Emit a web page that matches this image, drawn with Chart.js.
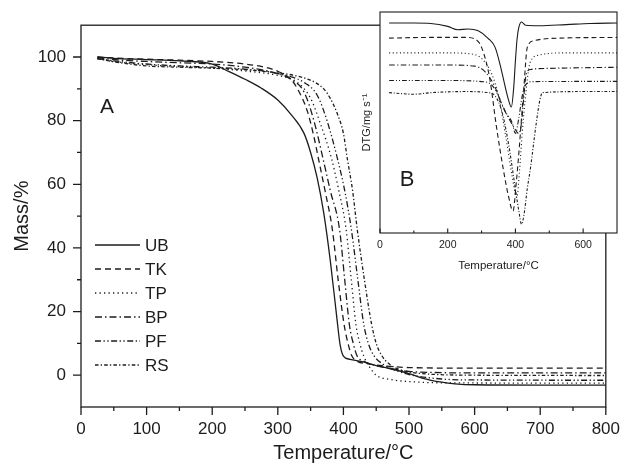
<!DOCTYPE html>
<html>
<head>
<meta charset="utf-8">
<script src="https://cdn.jsdelivr.net/npm/chart.js@4.4.0/dist/chart.umd.min.js"></script>
<style>
  html, body { margin: 0; padding: 0; background: #fff; }
  #wrap { position: relative; width: 632px; height: 467px; }
  #tgaChart { position: absolute; left: 0; top: 0; }
  #dtgChart { position: absolute; left: 330px; top: 0; }
</style>
</head>
<body>
<div id="wrap">
  <canvas id="tgaChart" width="632" height="467"></canvas>
  <canvas id="dtgChart" width="302" height="275"></canvas>
</div>
<script>
// sample names (legend order)
const sampleNames = ['UB', 'TK', 'TP', 'BP', 'PF', 'RS'];

// mass loss curves: temperature (°C) / mass (%)
const ubTemp = [25, 50, 100, 150, 200, 225, 250, 275, 300, 320, 340, 350, 360, 370, 380, 390, 395, 400, 410, 430, 450, 470, 500, 520, 550, 570, 600, 700, 800];
const ubMass = [100, 99.6, 99.2, 98.8, 97.8, 95.5, 93, 90.2, 86.5, 82, 76, 70, 62, 51, 36, 18, 9.5, 6, 5, 4.2, 3, 2.1, 0.5, -0.9, -2.2, -2.7, -3, -3.1, -3.1];
const tkTemp = [25, 50, 100, 150, 200, 250, 280, 300, 320, 330, 345, 355, 362, 372, 383, 392, 401, 407, 413, 420, 440, 460, 480, 500, 600, 800];
const tkMass = [100, 99.7, 99.3, 99, 98.6, 97.8, 96.8, 95.5, 93, 90, 83, 75, 68, 58, 46, 30, 16, 10, 6, 4.5, 3.5, 3, 2.6, 2.4, 2.2, 2.2];
const tpTemp = [25, 50, 100, 150, 200, 250, 300, 330, 350, 365, 382, 393, 404, 412, 419, 425, 431, 440, 450, 470, 500, 550, 800];
const tpMass = [99.5, 98.6, 97.6, 97, 96.5, 95.6, 94.2, 92, 87, 79, 68, 58, 46, 30, 16, 10, 6, 2.5, 0, -1.3, -2, -2.4, -2.5];
const bpTemp = [25, 50, 100, 150, 200, 250, 290, 320, 340, 355, 369, 380, 394, 402, 409, 415, 421, 430, 450, 480, 500, 550, 600, 800];
const bpMass = [99.8, 99.2, 98.6, 98.2, 97.8, 96.8, 95.3, 93, 89, 80, 68, 58, 46, 30, 16, 10, 6, 4.5, 3, 1.8, 1.2, 0.8, 0.7, 0.7];
const pfTemp = [25, 50, 100, 150, 200, 250, 300, 340, 360, 375, 391, 402, 412, 422, 431, 438, 446, 460, 480, 500, 550, 600, 800];
const pfMass = [99.5, 98.8, 97.8, 97.2, 96.8, 96.2, 94.8, 92, 88, 80, 68, 58, 46, 30, 16, 10, 6.3, 3.5, 1.5, 0.2, -1.2, -1.5, -1.6];
const rsTemp = [25, 50, 100, 150, 200, 250, 300, 330, 357, 370, 380, 391, 400, 406, 414, 421, 432, 443, 450, 458, 470, 490, 520, 600, 800];
const rsMass = [99.5, 98.5, 97.2, 96.8, 96.5, 96, 95, 94, 92, 90, 87, 82, 76, 68, 58, 46, 30, 16, 10, 6.3, 3.5, 1.5, 0.5, 0, -0.1];

// derivative curves (offset, arbitrary units)
const ubDtgTemp = [27, 100, 150, 200, 230, 260, 290, 320, 340, 355, 370, 380, 388, 395, 400, 405, 410, 418, 430, 470, 550, 620, 700];
const ubDtg = [95, 95, 94.8, 93.5, 92, 92.3, 91.5, 88, 84, 76, 66, 60, 57, 66, 78, 88, 93, 95.5, 94, 93.8, 94.3, 94.8, 95];
const tkDtgTemp = [27, 150, 250, 280, 300, 324, 344, 364, 379, 393, 402, 410, 425, 435, 455, 500, 700];
const tkDtg = [88.2, 88.5, 88.5, 87.8, 84, 70, 48, 29, 17, 10, 22, 36, 66, 84, 87, 88, 88.5];
const tpDtgTemp = [27, 200, 270, 300, 330, 350, 370, 390, 404, 412, 420, 430, 440, 450, 470, 550, 700];
const tpDtg = [81.5, 81.5, 81, 79, 72, 62, 45, 26, 16, 28, 45, 62, 75, 79, 80.5, 81.5, 81.5];
const bpDtgTemp = [27, 200, 280, 310, 340, 360, 380, 395, 410, 418, 425, 432, 445, 500, 700];
const bpDtg = [76, 76, 75.5, 73, 66, 58, 52, 48, 45, 50, 62, 72, 74, 74.5, 75];
const pfDtgTemp = [27, 200, 300, 330, 350, 370, 390, 400, 410, 420, 430, 450, 700];
const pfDtg = [69, 69, 68.5, 67, 62, 55, 50, 45, 52, 62, 67, 68.5, 68.6];
const rsDtgTemp = [27, 100, 150, 250, 320, 340, 360, 380, 395, 410, 418, 425, 435, 445, 460, 472, 480, 600, 700];
const rsDtg = [63.5, 62.8, 63.5, 64, 63.5, 62, 55, 40, 25, 10, 4, 8, 20, 30, 48, 60, 63.5, 64, 64];

// tick values
const tempTicks = [0, 100, 200, 300, 400, 500, 600, 700, 800];
const tempMinor = [50, 150, 250, 350, 450, 550, 650, 750];
const massTicks = [0, 20, 40, 60, 80, 100];
const massMinor = [10, 30, 50, 70, 90];
const dtgTempTicks = [0, 200, 400, 600];
const dtgTempMinor = [100, 300, 500];

const INK = '#1c1c1c';
const FONT = "'Liberation Sans', Arial, Helvetica, sans-serif";
const dashes = [[], [6, 4], [1.3, 3.2], [7, 3, 1.5, 3], [6, 2.5, 1.3, 2.5, 1.3, 2.5], [3.5, 2.2, 1.3, 2.2]];

const tgaSeries = [[ubTemp, ubMass], [tkTemp, tkMass], [tpTemp, tpMass], [bpTemp, bpMass], [pfTemp, pfMass], [rsTemp, rsMass]];
const dtgSeries = [[ubDtgTemp, ubDtg], [tkDtgTemp, tkDtg], [tpDtgTemp, tpDtg], [bpDtgTemp, bpDtg], [pfDtgTemp, pfDtg], [rsDtgTemp, rsDtg]];

function toPoints(xs, ys) {
    return xs.map((x, i) => ({ x: x, y: ys[i] }));
}

// box around the plot + hand-drawn tick marks
const framePlugin = {
    id: 'frame',
    beforeDraw(chart, args, opts) {
        if (!opts.fill) return;
        const a = chart.chartArea;
        chart.ctx.save();
        chart.ctx.fillStyle = opts.fill;
        chart.ctx.fillRect(a.left, a.top, a.right - a.left, a.bottom - a.top);
        chart.ctx.restore();
    },
    afterDraw(chart, args, opts) {
        const { ctx, chartArea: a, scales } = chart;
        const dir = opts.inward ? -1 : 1;
        ctx.save();
        ctx.strokeStyle = INK;
        ctx.lineWidth = opts.width;
        ctx.strokeRect(a.left, a.top, a.right - a.left, a.bottom - a.top);
        ctx.beginPath();
        (opts.x || []).forEach(([vals, len]) => {
            vals.forEach(v => {
                const px = scales.x.getPixelForValue(v);
                ctx.moveTo(px, a.bottom);
                ctx.lineTo(px, a.bottom + dir * len);
            });
        });
        (opts.y || []).forEach(([vals, len]) => {
            vals.forEach(v => {
                const py = scales.y.getPixelForValue(v);
                ctx.moveTo(a.left, py);
                ctx.lineTo(a.left - dir * len, py);
            });
        });
        ctx.stroke();
        ctx.restore();
    }
};

// line-style key drawn inside the plot
const lineKeyPlugin = {
    id: 'lineKey',
    afterDraw(chart, args, opts) {
        if (!opts.show) return;
        const ctx = chart.ctx;
        ctx.save();
        ctx.font = opts.size + 'px ' + FONT;
        ctx.fillStyle = INK;
        ctx.strokeStyle = INK;
        ctx.textBaseline = 'middle';
        chart.data.datasets.forEach((ds, i) => {
            const y = opts.top + i * opts.step;
            ctx.lineWidth = ds.borderWidth;
            ctx.setLineDash(ds.borderDash || []);
            ctx.beginPath();
            ctx.moveTo(opts.left, y);
            ctx.lineTo(opts.left + opts.length, y);
            ctx.stroke();
            ctx.setLineDash([]);
            ctx.fillText(ds.label, opts.left + opts.length + 5, y + 1);
        });
        ctx.restore();
    }
};

// panel letter
const panelTagPlugin = {
    id: 'panelTag',
    afterDraw(chart, args, opts) {
        const ctx = chart.ctx;
        ctx.save();
        ctx.font = opts.size + 'px ' + FONT;
        ctx.fillStyle = INK;
        ctx.textAlign = 'center';
        ctx.textBaseline = 'middle';
        ctx.fillText(opts.text, opts.x, opts.y);
        ctx.restore();
    }
};

// main mass-loss chart
new Chart(document.getElementById('tgaChart'), {
    type: 'line',
    data: {
        datasets: sampleNames.map((name, i) => ({
            label: name,
            data: toPoints(tgaSeries[i][0], tgaSeries[i][1]),
            borderColor: INK,
            borderWidth: 1.3,
            borderDash: dashes[i],
            pointRadius: 0,
            cubicInterpolationMode: 'monotone',
            fill: false
        }))
    },
    options: {
        responsive: false,
        animation: false,
        layout: { padding: { left: 0, right: 15, top: 11, bottom: 0 } },
        plugins: {
            legend: { display: false },
            tooltip: { enabled: false },
            frame: { width: 1.3, x: [[tempTicks, 8], [tempMinor, 4]], y: [[massTicks, 8], [massMinor, 4]] },
            lineKey: { show: true, left: 95, top: 245, step: 24, length: 45, size: 17 },
            panelTag: { text: 'A', x: 107, y: 107, size: 21 }
        },
        scales: {
            x: {
                type: 'linear',
                min: 0,
                max: 800,
                afterBuildTicks: s => { s.ticks = tempTicks.map(v => ({ value: v })); },
                afterFit: s => { s.height = 60; },
                grid: { display: false, drawTicks: false },
                border: { display: false },
                ticks: { color: INK, font: { family: FONT, size: 17 }, padding: 12, maxRotation: 0 },
                title: { display: true, text: 'Temperature/°C', color: INK, font: { family: FONT, size: 20 }, padding: { top: 0, bottom: 2 } }
            },
            y: {
                type: 'linear',
                min: -10,
                max: 110,
                afterBuildTicks: s => { s.ticks = massTicks.map(v => ({ value: v })); },
                afterFit: s => { s.width = 81; },
                grid: { display: false, drawTicks: false },
                border: { display: false },
                ticks: { color: INK, font: { family: FONT, size: 17 }, padding: 15 },
                title: { display: true, text: 'Mass/%', color: INK, font: { family: FONT, size: 20 }, padding: { top: 10, bottom: 0 } }
            }
        }
    },
    plugins: [framePlugin, lineKeyPlugin, panelTagPlugin]
});

// inset: derivative curves
new Chart(document.getElementById('dtgChart'), {
    type: 'line',
    data: {
        datasets: sampleNames.map((name, i) => ({
            label: name,
            data: toPoints(dtgSeries[i][0], dtgSeries[i][1]),
            borderColor: INK,
            borderWidth: 1.1,
            borderDash: dashes[i].map(d => d * 0.8),
            pointRadius: 0,
            cubicInterpolationMode: 'monotone',
            fill: false
        }))
    },
    options: {
        responsive: false,
        animation: false,
        layout: { padding: { left: 0, right: 15, top: 12, bottom: 0 } },
        plugins: {
            legend: { display: false },
            tooltip: { enabled: false },
            frame: { width: 1.1, fill: '#ffffff', inward: true, x: [[dtgTempTicks, 4.5], [dtgTempMinor, 2.5]] },
            lineKey: { show: false },
            panelTag: { text: 'B', x: 77, y: 180, size: 22 }
        },
        scales: {
            x: {
                type: 'linear',
                min: 0,
                max: 700,
                afterBuildTicks: s => { s.ticks = dtgTempTicks.map(v => ({ value: v })); },
                afterFit: s => { s.height = 42; },
                grid: { display: false, drawTicks: false },
                border: { display: false },
                ticks: { color: INK, font: { family: FONT, size: 10.5 }, padding: 6, maxRotation: 0 },
                title: { display: true, text: 'Temperature/°C', color: INK, font: { family: FONT, size: 11.5 }, padding: { top: 0, bottom: 2 } }
            },
            y: {
                type: 'linear',
                min: 0,
                max: 100,
                afterFit: s => { s.width = 50; },
                grid: { display: false, drawTicks: false },
                border: { display: false },
                ticks: { display: false },
                title: { display: true, text: 'DTG/mg s⁻¹', color: INK, font: { family: FONT, size: 11 }, padding: { top: 30, bottom: 0 } }
            }
        }
    },
    plugins: [framePlugin, lineKeyPlugin, panelTagPlugin]
});
</script>
</body>
</html>
